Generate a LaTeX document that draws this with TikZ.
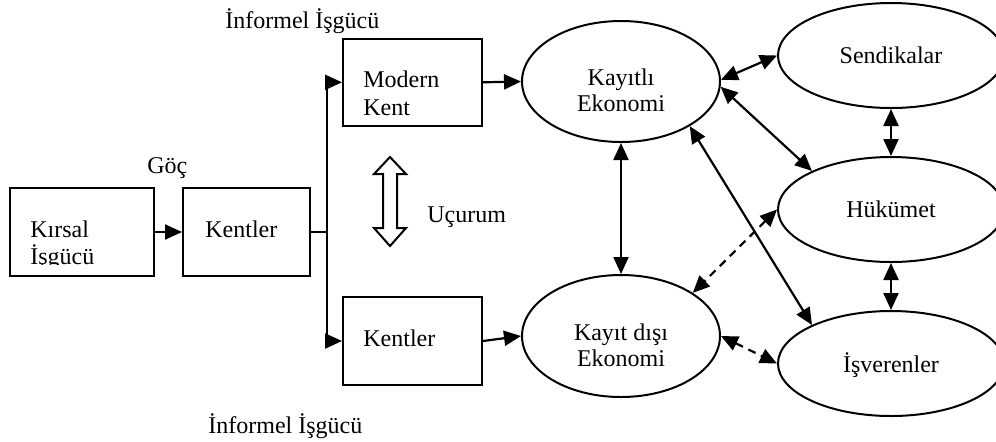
\documentclass[tikz,border=0pt]{standalone}
\usepackage{fontspec}
\setmainfont{Liberation Serif}
\usetikzlibrary{arrows.meta,shapes.geometric}
\tikzset{
  boxnode/.style={draw,line width=1pt,rectangle,inner sep=0pt},
  ellnode/.style={draw,line width=1pt,ellipse,inner sep=0pt,minimum width=113pt,minimum height=52.5pt},
  ellsmall/.style={draw,line width=1pt,ellipse,inner sep=0pt,minimum width=99pt,minimum height=61pt},
  txt/.style={font=\fontsize{12}{14}\selectfont,inner sep=0pt,anchor=base west},
  txtc/.style={font=\fontsize{12}{14}\selectfont,inner sep=0pt,anchor=base},
  tip/.style={Triangle[length=8.5pt,width=7.5pt]},
  conn/.style={line width=1.1pt,-{Triangle[length=8.5pt,width=7.5pt]}},
  bconn/.style={line width=1.1pt,{Triangle[length=8.5pt,width=7.5pt]}-{Triangle[length=8.5pt,width=7.5pt]}},
  dconn/.style={bconn,dash pattern=on 4pt off 3pt},
}
\begin{document}
\begin{tikzpicture}[x=0.5pt,y=-0.5pt]
\useasboundingbox (0,0) rectangle (996,441);
% boxes
\node[boxnode,minimum width=72pt,minimum height=44pt] (kirsal) at (82,232) {};
\node[boxnode,minimum width=63.5pt,minimum height=44pt] (kent1) at (246.5,232) {};
\node[boxnode,minimum width=69.5pt,minimum height=43.7pt] (modern) at (412.5,82.3) {};
\node[boxnode,minimum width=69.5pt,minimum height=44pt] (kent2) at (412.5,341) {};
% ellipses
\node[ellsmall,minimum height=60.5pt] (kay) at (621,81.5) {};
\node[ellsmall] (kd) at (621,336) {};
\node[ellnode] (send) at (891,55.5) {};
\node[ellnode] (huk) at (891,209.5) {};
\node[ellnode] (isv) at (891,363.5) {};
% texts in boxes
\node[txt] (t1) at (30,237) {Kırsal};
\begin{scope}
\clip (0,0) rectangle (160,264.5);
\node[txt] (t2) at (30,264) {İşgücü};
\end{scope}
\node[txt] (t3) at (205,237) {Kentler};
\node[txt] (t4) at (363,87) {Modern};
\node[txt] (t5) at (363,115) {Kent};
\node[txt] (t6) at (363,346) {Kentler};
% texts in ellipses
\node[txtc] (t7) at (621,85) {Kayıtlı};
\node[txtc] (t8) at (621,111) {Ekonomi};
\node[txtc] (t9) at (621,340) {Kayıt dışı};
\node[txtc] (t10) at (621,366) {Ekonomi};
\node[txtc] (t11) at (891,63) {Sendikalar};
\node[txtc] (t12) at (891,217) {Hükümet};
\node[txtc] (t13) at (891,372) {İşverenler};
% free labels
\node[txt] (goc) at (147,173) {Göç};
\node[txt] (inf1) at (225,28) {İnformel İşgücü};
\node[txt] (inf2) at (208,433) {İnformel İşgücü};
\node[txt] (ucurum) at (427,222) {Uçurum};
% hollow double arrow
\draw[line width=1pt,line join=miter] (390,157) -- (406,174) -- (397,174) -- (397,228) -- (406,228) -- (390,246) -- (374,228) -- (383,228) -- (383,174) -- (374,174) -- cycle;
% connectors
\coordinate (j) at ([xshift=8pt]kent1.east);
\draw[conn] (kirsal.east) -- (kent1.west);
\draw[line width=1.1pt] (kent1.east) -- (j);
\draw[conn] (j) |- (modern.west);
\draw[conn] (j) |- (kent2.west);
\draw[conn] (modern.east) -- (kay.west);
\draw[conn] (kent2.east) -- (kd.west);
\draw[bconn] (kay.south) -- (kd.north);
\draw[bconn] (kay.1) -- (send.west);
\draw[bconn] (kay.-3) -- (huk.154);
\draw[bconn] (kay.-33) -- (isv.154);
\draw[dconn] (huk.west) -- (kd.31);
\draw[dconn] (kd.east) -- (isv.west);
\draw[bconn] (send.south) -- (huk.north);
\draw[bconn] (huk.south) -- (isv.north);
\end{tikzpicture}
\end{document}
